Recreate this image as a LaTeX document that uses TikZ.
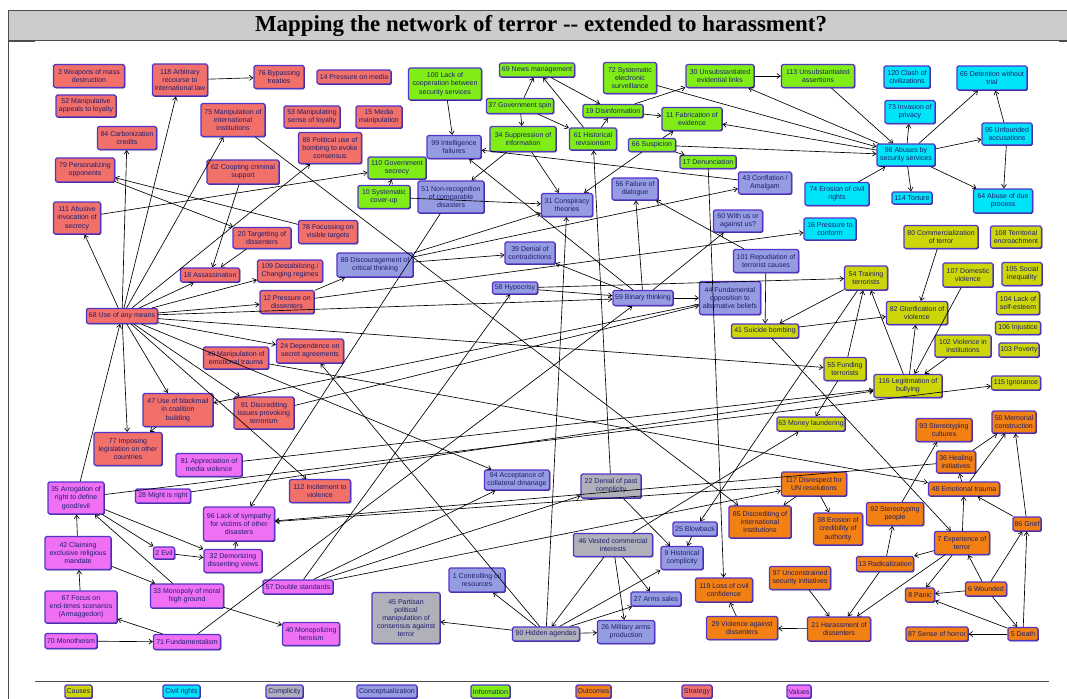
\documentclass[tikz,border=0pt]{standalone}
\usepackage{fontspec}
\setmainfont{Liberation Serif}
\newfontfamily\boxfont{Liberation Sans}
\usetikzlibrary{arrows.meta,shadows}
\definecolor{strat}{RGB}{242,112,106}
\definecolor{info}{RGB}{128,238,22}
\definecolor{concept}{RGB}{150,156,226}
\definecolor{compl}{RGB}{176,176,186}
\definecolor{civil}{RGB}{0,228,250}
\definecolor{causes}{RGB}{204,214,8}
\definecolor{outc}{RGB}{242,128,18}
\definecolor{vals}{RGB}{240,112,244}
\definecolor{boxline}{RGB}{82,52,200}
\definecolor{boxtext}{RGB}{30,30,110}
\definecolor{titlegrey}{RGB}{204,204,204}
\tikzset{
  box/.style={draw=boxline, line width=1.2pt, rounded corners=1.5pt, align=center,
    inner sep=0pt, text=boxtext, font=\boxfont\fontsize{7}{8.2}\selectfont,
    general shadow={shadow xshift=0.8pt, shadow yshift=-0.8pt, fill=boxline!50!black}},
  lnk/.style={->, line width=0.65pt}
}
\begin{document}
\begin{tikzpicture}[x=1pt,y=-1pt,>={Straight Barb[length=3.5pt,width=5pt]}]
\useasboundingbox (0,0) rectangle (1067,698);
% frame and title
\draw[fill=titlegrey, line width=1pt, draw=black!70] (8,11) rectangle (1075,41);
\node[font=\bfseries\fontsize{22.9}{26}\selectfont] (title) at (541,26) {Mapping the network of terror -{}- extended to harassment?};
\draw[line width=1pt, black!70] (8,41) -- (8,700);
\draw[line width=1pt, black!70] (8,42) -- (35,42);
\draw[line width=1pt, black!70] (1059,42) -- (1067,42);
\draw[line width=1pt, black!70] (35,681) -- (1049,681);

% strategy
\foreach \n/\x/\y/\w/\h/\t in {
  3/89/76/71/23/{3 Weapons of mass\\destruction},
  52/86/106/60/22/{52 Manipulative\\appeals to loyalty},
  118/180/80/55/32/{118 Arbitrary\\recourse to\\international law},
  76/279/77/50/23/{76 Bypassing\\treaties},
  14/354/77/74/14/{14 Pressure on media},
  75/233/120/64/33/{75 Manipulation of\\international\\institutions},
  53/312/117/56/22/{53 Manipulating\\sense of loyalty},
  15/379/117/46/22/{15 Media\\manipulation},
  84/127/138/59/23/{84 Carbonization\\credits},
  88/330/148/63/31/{88 Political use of\\bombing to evoke\\consensus},
  79/85/170/59/24/{79 Personalizing\\opponents},
  62/243/172/72/24/{62 Coopting criminal\\support},
  111/77/218/47/32/{111 Abusive\\invocation of\\secrecy},
  20/262/238/58/21/{20 Targetting of\\dissenters},
  78/328/232/59/23/{78 Focussing on\\visible targets},
  18/210/275/59/14/{18 Assassination},
  109/290/271/65/22/{109 Destabilizing /\\Changing regimes},
  12/287/302/54/23/{12 Pressure on\\dissenters},
  68/122/316/71/15/{68 Use of any means},
  24/310/351/67/24/{24 Dependence on\\secret agreements},
  49/236/358/65/22/{49 Manipulation of\\emotional trauma},
  47/178/410/70/33/{47 Use of blackmail\\in coalition\\building},
  91/264/413/60/32/{91 Discrediting\\issues provoking\\terrorism},
  77/128/449/68/33/{77 Imposing\\legislation on other\\countries},
  112/320/491/61/23/{112 Incitement to\\violence}}
  \node[box, fill=strat, minimum width=\w pt, minimum height=\h pt] (n\n) at (\x,\y) {\t};

% information
\foreach \n/\x/\y/\w/\h/\t in {
  100/445/84/73/32/{100 Lack of\\cooperation between\\security services},
  69/537/70/75/14/{69 News management},
  72/630/78/53/31/{72 Systematic\\electronic\\surveillance},
  30/720/76/68/23/{30 Unsubstantiated\\evidential links},
  113/818/76/73/23/{113 Unsubstantiated\\assertions},
  37/520/106/67/15/{37 Government spin},
  19/613/111/60/13/{19 Disinformation},
  11/692/119/60/23/{11 Fabrication of\\evidence},
  34/523/139/66/25/{34 Suppression of\\information},
  61/593/139/47/22/{61 Historical\\revisionism},
  66/652/145/47/13/{66 Suspicion},
  17/708/162/56/13/{17 Denunciation},
  110/397/168/58/22/{110 Government\\secrecy},
  10/384/197/52/23/{10 Systematic\\cover-up}}
  \node[box, fill=info, minimum width=\w pt, minimum height=\h pt] (n\n) at (\x,\y) {\t};

% conceptualization
\foreach \n/\x/\y/\w/\h/\t in {
  99/454/147/54/23/{99 Intelligence\\failures},
  51/451/197/66/32/{51 Non-recognition\\of comparable\\disasters},
  31/567/205/51/23/{31 Conspiracy\\theories},
  56/635/189/46/22/{56 Failure of\\dialogue},
  43/765/183/53/22/{43 Conflation /\\Amalgam},
  60/738/221/49/22/{60 With us or\\against us?},
  39/530/253/50/22/{39 Denial of\\contradictions},
  89/375/265/76/24/{89 Discouragement of\\critical thinking},
  101/766/261/65/23/{101 Repudiation of\\terrorist causes},
  58/515/288/45/12/{58 Hypocrisy},
  59/643/298/60/15/{59 Binary thinking},
  44/730/298/61/33/{44 Fundamental\\opposition to\\alternative beliefs},
  94/517/480/65/20/{94 Acceptance of\\collateral dmanage},
  1/477/580/56/24/{1 Controlling oil\\resources},
  25/695/529/44/14/{25 Blowback},
  9/682/558/42/23/{9 Historical\\complicity},
  27/656/599/50/14/{27 Arms sales},
  26/626/632/57/23/{26 Military arms\\production}}
  \node[box, fill=concept, minimum width=\w pt, minimum height=\h pt] (n\n) at (\x,\y) {\t};

% complicity
\foreach \n/\x/\y/\w/\h/\t in {
  22/611/486/60/24/{22 Denial of past\\complicity},
  46/613/545/79/23/{46 Vested commercial\\interests},
  45/406/618/68/51/{45 Partisan\\political\\manipulation of\\consensus against\\terror},
  90/546/634/67/14/{90 Hidden agendas}}
  \node[box, fill=compl, minimum width=\w pt, minimum height=\h pt] (n\n) at (\x,\y) {\t};

% civil rights
\foreach \n/\x/\y/\w/\h/\t in {
  120/907/77/46/22/{120 Clash of\\civilizations},
  65/992/78/70/24/{65 Detention without\\trial},
  73/910/112/50/23/{73 Invasion of\\privacy},
  95/1007/134/50/22/{95 Unfounded\\accusations},
  98/906/155/58/22/{98 Abuses by\\security services},
  74/837/194/64/23/{74 Erosion of civil\\rights},
  114/912/198/40/12/{114 Torture},
  64/1003/201/59/24/{64 Abuse of due\\process},
  16/830/229/52/22/{16 Pressure to\\conform}}
  \node[box, fill=civil, minimum width=\w pt, minimum height=\h pt] (n\n) at (\x,\y) {\t};

% causes
\foreach \n/\x/\y/\w/\h/\t in {
  80/941/237/74/23/{80 Commercialization\\of terror},
  108/1016/237/51/22/{108 Territorial\\encroachment},
  54/866/278/43/24/{54 Training\\terrorists},
  107/968/275/50/24/{107 Domestic\\violence},
  105/1022/274/40/23/{105 Social\\inequality},
  82/917/313/61/23/{82 Glorification of\\violence},
  104/1018/303/43/23/{104 Lack of\\self-esteem},
  106/1018/328/45/13/{106 Injustice},
  102/963/346/56/22/{102 Violence in\\institutions},
  103/1019/350/40/14/{103 Poverty},
  55/845/369/42/23/{55 Funding\\terrorists},
  116/908/386/68/23/{116 Legitimation of\\bullying},
  115/1016/383/49/14/{115 Ignorance},
  41/765/331/67/14/{41 Suicide bombing},
  63/811/424/68/14/{63 Money laundering}}
  \node[box, fill=causes, minimum width=\w pt, minimum height=\h pt] (n\n) at (\x,\y) {\t};

% outcomes
\foreach \n/\x/\y/\w/\h/\t in {
  93/944/430/56/23/{93 Stereotyping\\cultures},
  50/1014/422/44/22/{50 Memorial\\construction},
  36/956/462/39/22/{36 Healing\\initiatives},
  48/964/489/71/14/{48 Emotional trauma},
  117/814/484/65/24/{117 Disrespect for\\UN resolutions},
  85/760/522/62/32/{85 Discrediting of\\international\\institutions},
  38/838/529/49/32/{38 Erosion of\\credibility of\\authority},
  92/895/514/57/23/{92 Stereotyping\\people},
  86/1027/524/28/14/{86 Grief},
  7/962/543/55/23/{7 Experience of\\terror},
  13/885/564/57/15/{13 Radicalization},
  119/724/590/57/24/{119 Loss of civil\\confidence},
  97/800/578/61/23/{97 Unconstrained\\security initiatives},
  6/986/589/41/14/{6 Wounded},
  8/920/595/29/14/{8 Panic},
  29/742/628/71/23/{29 Violence against\\dissenters},
  21/839/629/63/24/{21 Harassment of\\dissenters},
  87/937/634/62/14/{87 Sense of horror},
  5/1023/634/30/13/{5 Death}}
  \node[box, fill=outc, minimum width=\w pt, minimum height=\h pt] (n\n) at (\x,\y) {\t};

% values
\foreach \n/\x/\y/\w/\h/\t in {
  81/209/465/66/23/{81 Appreciation of\\media violence},
  35/76/498/56/32/{35 Arrogation of\\right to define\\good/evil},
  28/163/496/55/14/{28 Might is right},
  96/239/524/71/34/{96 Lack of sympathy\\for victims of other\\disasters},
  42/78/553/66/33/{42 Claiming\\exclusive religious\\mandate},
  2/164/553/21/12/{2 Evil},
  32/233/561/58/23/{32 Demonizing\\dissenting views},
  33/187/596/73/24/{33 Monopoly of moral\\high ground},
  67/81/607/72/32/{67 Focus on\\end-times scenarios\\(Armaggedon)},
  70/71/641/52/15/{70 Monotheism},
  71/187/642/67/15/{71 Fundamentalism},
  57/298/587/70/14/{57 Double standards},
  40/311/634/57/23/{40 Monopolizing\\heroism}}
  \node[box, fill=vals, minimum width=\w pt, minimum height=\h pt] (n\n) at (\x,\y) {\t};

% links
\foreach \a/\b in {118/76, 68/118, 68/84, 68/75, 68/111, 68/88, 68/18, 68/109,
  68/12, 68/24, 68/47, 68/91, 68/77, 68/55, 68/59, 68/94, 68/112, 62/18, 20/18,
  111/110, 79/20, 78/79, 75/85, 12/89, 12/16, 47/77, 35/68, 100/99, 37/69, 37/34,
  37/61, 61/69, 69/19, 19/11, 19/30, 61/19, 66/11, 66/17, 66/31, 66/98, 72/98,
  98/11, 98/30, 113/98, 30/113, 98/73, 98/65, 98/95, 98/114, 98/64, 95/65, 95/64,
  74/98, 34/51, 34/31, 43/99, 59/99, 10/110, 10/31, 89/31, 89/39, 89/43, 59/56,
  90/31, 22/61, 17/119, 101/56, 59/39, 59/60, 58/59, 58/54, 59/44, 71/59, 91/44,
  44/47, 101/41, 54/41, 54/25, 41/82, 41/7, 80/82, 116/54, 116/82, 55/54,
  107/116, 102/116, 55/63, 46/63, 35/115, 57/117, 117/38, 117/85, 22/9, 25/9,
  46/90, 46/26, 46/27, 90/9, 90/26, 90/27, 90/1, 90/45, 90/24, 29/119, 21/29,
  97/21, 13/21, 13/92, 7/13, 7/21, 7/8, 7/48, 6/7, 6/8, 6/5, 6/86, 5/8, 5/87,
  5/86, 86/48, 86/50, 48/50, 36/50, 48/36, 92/93, 35/2, 35/32, 33/35, 2/32,
  42/35, 67/42, 42/33, 71/67, 70/71, 33/40, 32/96, 51/96, 117/96, 36/96, 57/58,
  57/94, 57/22, 28/116, 81/116, 49/48}
  \draw[lnk] (n\a) -- (n\b);

% legend
\foreach \n/\x/\w/\c/\t in {ca/78.5/27/causes/Causes, cr/181.5/37/civil/Civil rights,
  cp/284.5/37/compl/Complicity, co/387/60/concept/Conceptualization,
  in/490.5/39/info/Information, ou/593.5/35/outc/Outcomes,
  st/697/30/strat/Strategy, va/799/24/vals/Values}
  \node[box, fill=\c, minimum width=\w pt, minimum height=13pt] (leg\n) at (\x,691.5) {\t};
\end{tikzpicture}
\end{document}
